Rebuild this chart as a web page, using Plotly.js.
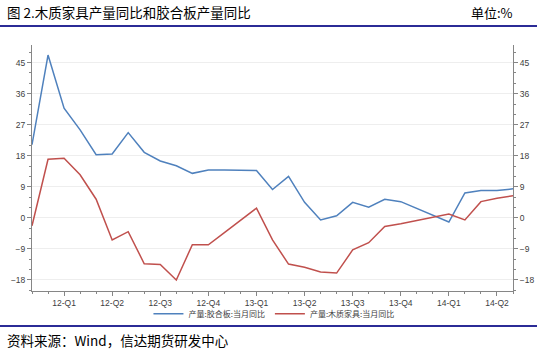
<!DOCTYPE html>
<html>
<head>
<meta charset="utf-8">
<script src="https://cdn.plot.ly/plotly-3.0.1.min.js"></script>
<style>html,body{margin:0;padding:0;background:#fff;}#chart{width:540px;height:358px;}</style>
</head>
<body>
<div id="chart"></div>
<script>
// Monthly observations (Nov 2011 – May 2014)
const months = ["2011-11","2011-12","2012-01","2012-02","2012-03","2012-04","2012-05","2012-06","2012-07","2012-08","2012-09","2012-10","2012-11","2012-12","2013-01","2013-02","2013-03","2013-04","2013-05","2013-06","2013-07","2013-08","2013-09","2013-10","2013-11","2013-12","2014-01","2014-02","2014-03","2014-04","2014-05"];
// 产量:胶合板:当月同比 (%)
const plywood = [21.2, 47.2, 31.8, 25.5, 18.3, 18.5, 24.7, 19.0, 16.5, 15.1, 12.9, 13.9, 13.9, 13.7, 13.7, 8.2, 12.0, 4.5, -0.6, 0.6, 4.5, 3.1, 5.4, 4.7, 2.8, 0.8, -1.2, 7.2, 7.9, 7.9, 8.4];
// 产量:木质家具:当月同比 (%)
const furniture = [-2.3, 17.0, 17.3, 12.5, 5.4, -6.4, -4.0, -13.3, -13.5, -18.0, -7.8, -7.8, -4.3, -0.8, 2.8, -6.4, -13.4, -14.3, -15.7, -16.0, -9.3, -7.2, -2.5, -1.7, -0.7, 0.2, 1.1, -0.6, 4.7, 5.7, 6.4];
// Quarter tick labels and the months they sit on
const tickMonths = ["2012-01","2012-04","2012-07","2012-10","2013-01","2013-04","2013-07","2013-10","2014-01","2014-04"];
const tickLabels = ["12-Q1","12-Q2","12-Q3","12-Q4","13-Q1","13-Q2","13-Q3","13-Q4","14-Q1","14-Q2"];
const seriesNames = ["产量:胶合板:当月同比", "产量:木质家具:当月同比"];

const xIdx = months.map((m, i) => i);
const tickIdx = tickMonths.map(m => months.indexOf(m));

const cjk = '"Noto Sans CJK SC", "Noto Sans", sans-serif';
const tickFont = {family: '"Liberation Sans", Arial, sans-serif', size: 8.5, color: '#404040'};
const yRange = [-21.2, 50.1];

const yCommon = {
  range: yRange, tickmode: 'linear', tick0: 0, dtick: 9,
  ticks: 'outside', ticklen: 4, tickcolor: '#868686', tickwidth: 1,
  showline: true, linecolor: '#868686', linewidth: 1,
  tickfont: tickFont, zeroline: false, fixedrange: true,
  minor: {tickmode: 'linear', tick0: 0, dtick: 3, ticks: 'outside', ticklen: 2, tickcolor: '#868686', showgrid: false}
};

const traces = [
  {x: xIdx, y: plywood, name: seriesNames[0], type: 'scatter', mode: 'lines',
   line: {color: '#4F81BD', width: 1.5}, xaxis: 'x', yaxis: 'y'},
  {x: xIdx, y: furniture, name: seriesNames[1], type: 'scatter', mode: 'lines',
   line: {color: '#C0504D', width: 1.5}, xaxis: 'x', yaxis: 'y2'}
];

const layout = {
  width: 540, height: 358,
  margin: {l: 32, r: 27, t: 45, b: 67, pad: 0},
  paper_bgcolor: '#ffffff', plot_bgcolor: '#ffffff',
  font: {family: cjk, color: '#333'},
  showlegend: true,
  legend: {orientation: 'h', x: 0.503, xanchor: 'center', y: -0.092, yanchor: 'middle',
           bgcolor: 'rgba(0,0,0,0)', font: {family: cjk, size: 8, color: '#404040'}, itemwidth: 30, tracegroupgap: 0},
  xaxis: {
    range: [0, xIdx.length - 1], tickmode: 'array', tickvals: tickIdx, ticktext: tickLabels,
    ticks: 'outside', ticklen: 4, tickcolor: '#868686', showline: true, linecolor: '#868686',
    showgrid: false, zeroline: false, tickfont: tickFont, fixedrange: true,
    minor: {tickmode: 'linear', tick0: 0, dtick: 1, ticks: 'outside', ticklen: 2, tickcolor: '#868686', showgrid: false}
  },
  yaxis: Object.assign({}, yCommon, {side: 'left', showgrid: true, gridcolor: '#eeeeee', gridwidth: 1}),
  yaxis2: Object.assign({}, yCommon, {side: 'right', overlaying: 'y', showgrid: false}),
  shapes: [
    {type: 'line', xref: 'paper', yref: 'paper', x0: -32/481, x1: 505/481, y0: 265/246, y1: 265/246,
     line: {color: '#2B2B96', width: 2}},
    {type: 'line', xref: 'paper', yref: 'paper', x0: -32/481, x1: 505/481, y0: -35/246, y1: -35/246,
     line: {color: '#2B2B96', width: 2}}
  ],
  annotations: [
    {text: '图 2.木质家具产量同比和胶合板产量同比', xref: 'paper', yref: 'paper', x: -27/481, y: 279/246,
     xanchor: 'left', yanchor: 'middle', showarrow: false, font: {family: cjk, size: 13.5, color: '#000'}},
    {text: '单位:%', xref: 'paper', yref: 'paper', x: 483/481, y: 279/246,
     xanchor: 'right', yanchor: 'middle', showarrow: false, font: {family: cjk, size: 13, color: '#000'}},
    {text: '资料来源：Wind，信达期货研发中心', xref: 'paper', yref: 'paper', x: -27/481, y: -49/246,
     xanchor: 'left', yanchor: 'middle', showarrow: false, font: {family: cjk, size: 13.5, color: '#000'}}
  ]
};

Plotly.newPlot('chart', traces, layout, {displayModeBar: false, staticPlot: true});
</script>
</body>
</html>
